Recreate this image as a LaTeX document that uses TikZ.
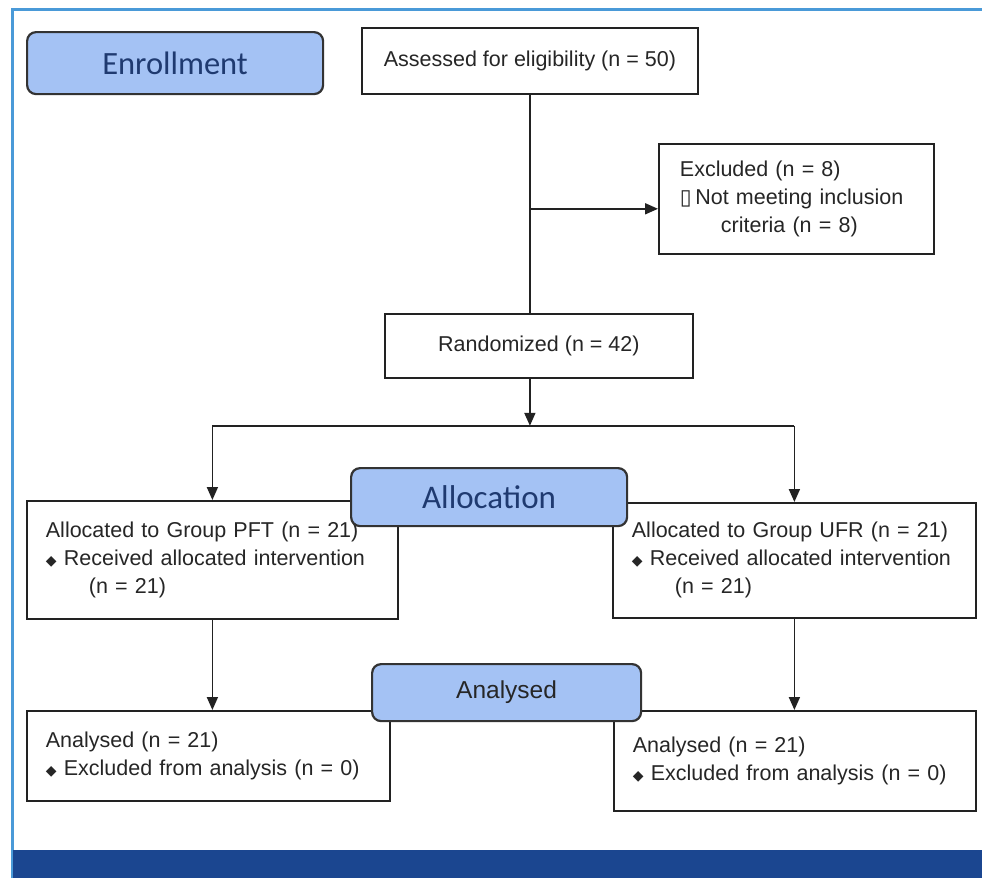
\documentclass[tikz,border=0pt]{standalone}
\usepackage{fontspec}
\setmainfont{Liberation Sans}
\newfontfamily\calibfont{Carlito}
\newfontfamily\symbfont{DejaVu Sans}
\usetikzlibrary{arrows.meta,positioning,calc}
\definecolor{stagefill}{HTML}{A4C2F4}
\definecolor{stagetext}{HTML}{1F3A70}
\definecolor{frameblue}{HTML}{4A9AD8}
\definecolor{barblue}{HTML}{1B4690}
\definecolor{boxline}{HTML}{222222}
\newcommand{\bul}{{\symbfont\fontsize{14}{14}\selectfont ◆}\ }
\newcommand{\tofu}{{\symbfont ▯}\,}

\begin{document}
\begin{tikzpicture}[x=1pt,y=-1pt,
    box/.style={draw=boxline, line width=1.8pt, fill=white, text=black!85,
      font=\fontsize{21.5}{28}\selectfont, inner sep=0pt, anchor=north west},
    listbox/.style={box, align=left, inner xsep=19pt},
    stage/.style={draw=black!80, line width=2.2pt, fill=stagefill,
      rounded corners=9pt, anchor=north west, inner sep=0pt},
    flow/.style={line width=1.8pt, draw=boxline},
    arr/.style={flow, -{Triangle[length=13pt,width=11pt]}}]
  \useasboundingbox (0,0) rectangle (982,878);
  \fill[white] (0,0) rectangle (982,878);

  % page frame and footer bar
  \draw[frameblue, line width=3pt] (12,878) -- (12,9) -- (982,9);
  \fill[barblue] (13,850) rectangle (982,878);

  % flow boxes
  \node[box, minimum width=336pt, minimum height=66pt] (assess) at (361,27)
    {Assessed for eligibility (n = 50)};
  \node[listbox, inner xsep=21pt, text width=233pt, minimum height=110pt] (excl) at (658,143)
    {Excluded (n = 8)\\ \tofu Not meeting inclusion\\ \hspace*{41pt}criteria (n = 8)};
  \node[box, minimum width=308pt, minimum height=64pt] (rand) at (384,313)
    {Randomized (n = 42)};
  \node[listbox, text width=333pt, minimum height=118pt] (pft) at (26,500)
    {Allocated to Group PFT (n = 21)\\ \bul Received allocated intervention\\ \hspace*{43pt}(n = 21)};
  \node[listbox, text width=325pt, minimum height=115pt] (ufr) at (612,502)
    {Allocated to Group UFR (n = 21)\\ \bul Received allocated intervention\\ \hspace*{43pt}(n = 21)};
  \node[listbox, text width=325pt, minimum height=90pt] (anl) at (26,710)
    {Analysed (n = 21)\\ \bul Excluded from analysis (n = 0)};
  \node[listbox, text width=324pt, minimum height=100pt] (anr) at (613,710)
    {Analysed (n = 21)\\ \bul Excluded from analysis (n = 0)};

  % connectors
  \coordinate (branch) at ($(assess.south)+(0,114)$);
  \coordinate (split) at ($(assess.south |- rand.south)+(0,47)$);
  \draw[flow] (assess.south) -- (assess.south |- rand.north);
  \draw[arr] (branch) -- (branch -| excl.west);
  \draw[arr] (assess.south |- rand.south) -- (split);
  \draw[flow] (split -| pft.north) -- (split -| ufr.north);
  \draw[arr] (split -| pft.north) -- (pft.north);
  \draw[arr] (split -| ufr.north) -- (ufr.north);
  \draw[arr] (pft.south) -- (pft.south |- anl.north);
  \draw[arr] (ufr.south) -- (ufr.south |- anr.north);

  % stage labels
  \node[stage, minimum width=296pt, minimum height=62pt, text=stagetext,
    font=\calibfont\fontsize{32.5}{34}\selectfont] (enrol) at (26,31) {Enrollment};
  \node[stage, minimum width=276pt, minimum height=58pt, text=stagetext,
    font=\calibfont\fontsize{33}{34}\selectfont] (alloc) at (350,467) {Allocation};
  \node[stage, minimum width=269pt, minimum height=57pt, text=black!85,
    font=\fontsize{24.5}{26}\selectfont] (anlys) at (371,663) {Analysed};
\end{tikzpicture}
\end{document}
